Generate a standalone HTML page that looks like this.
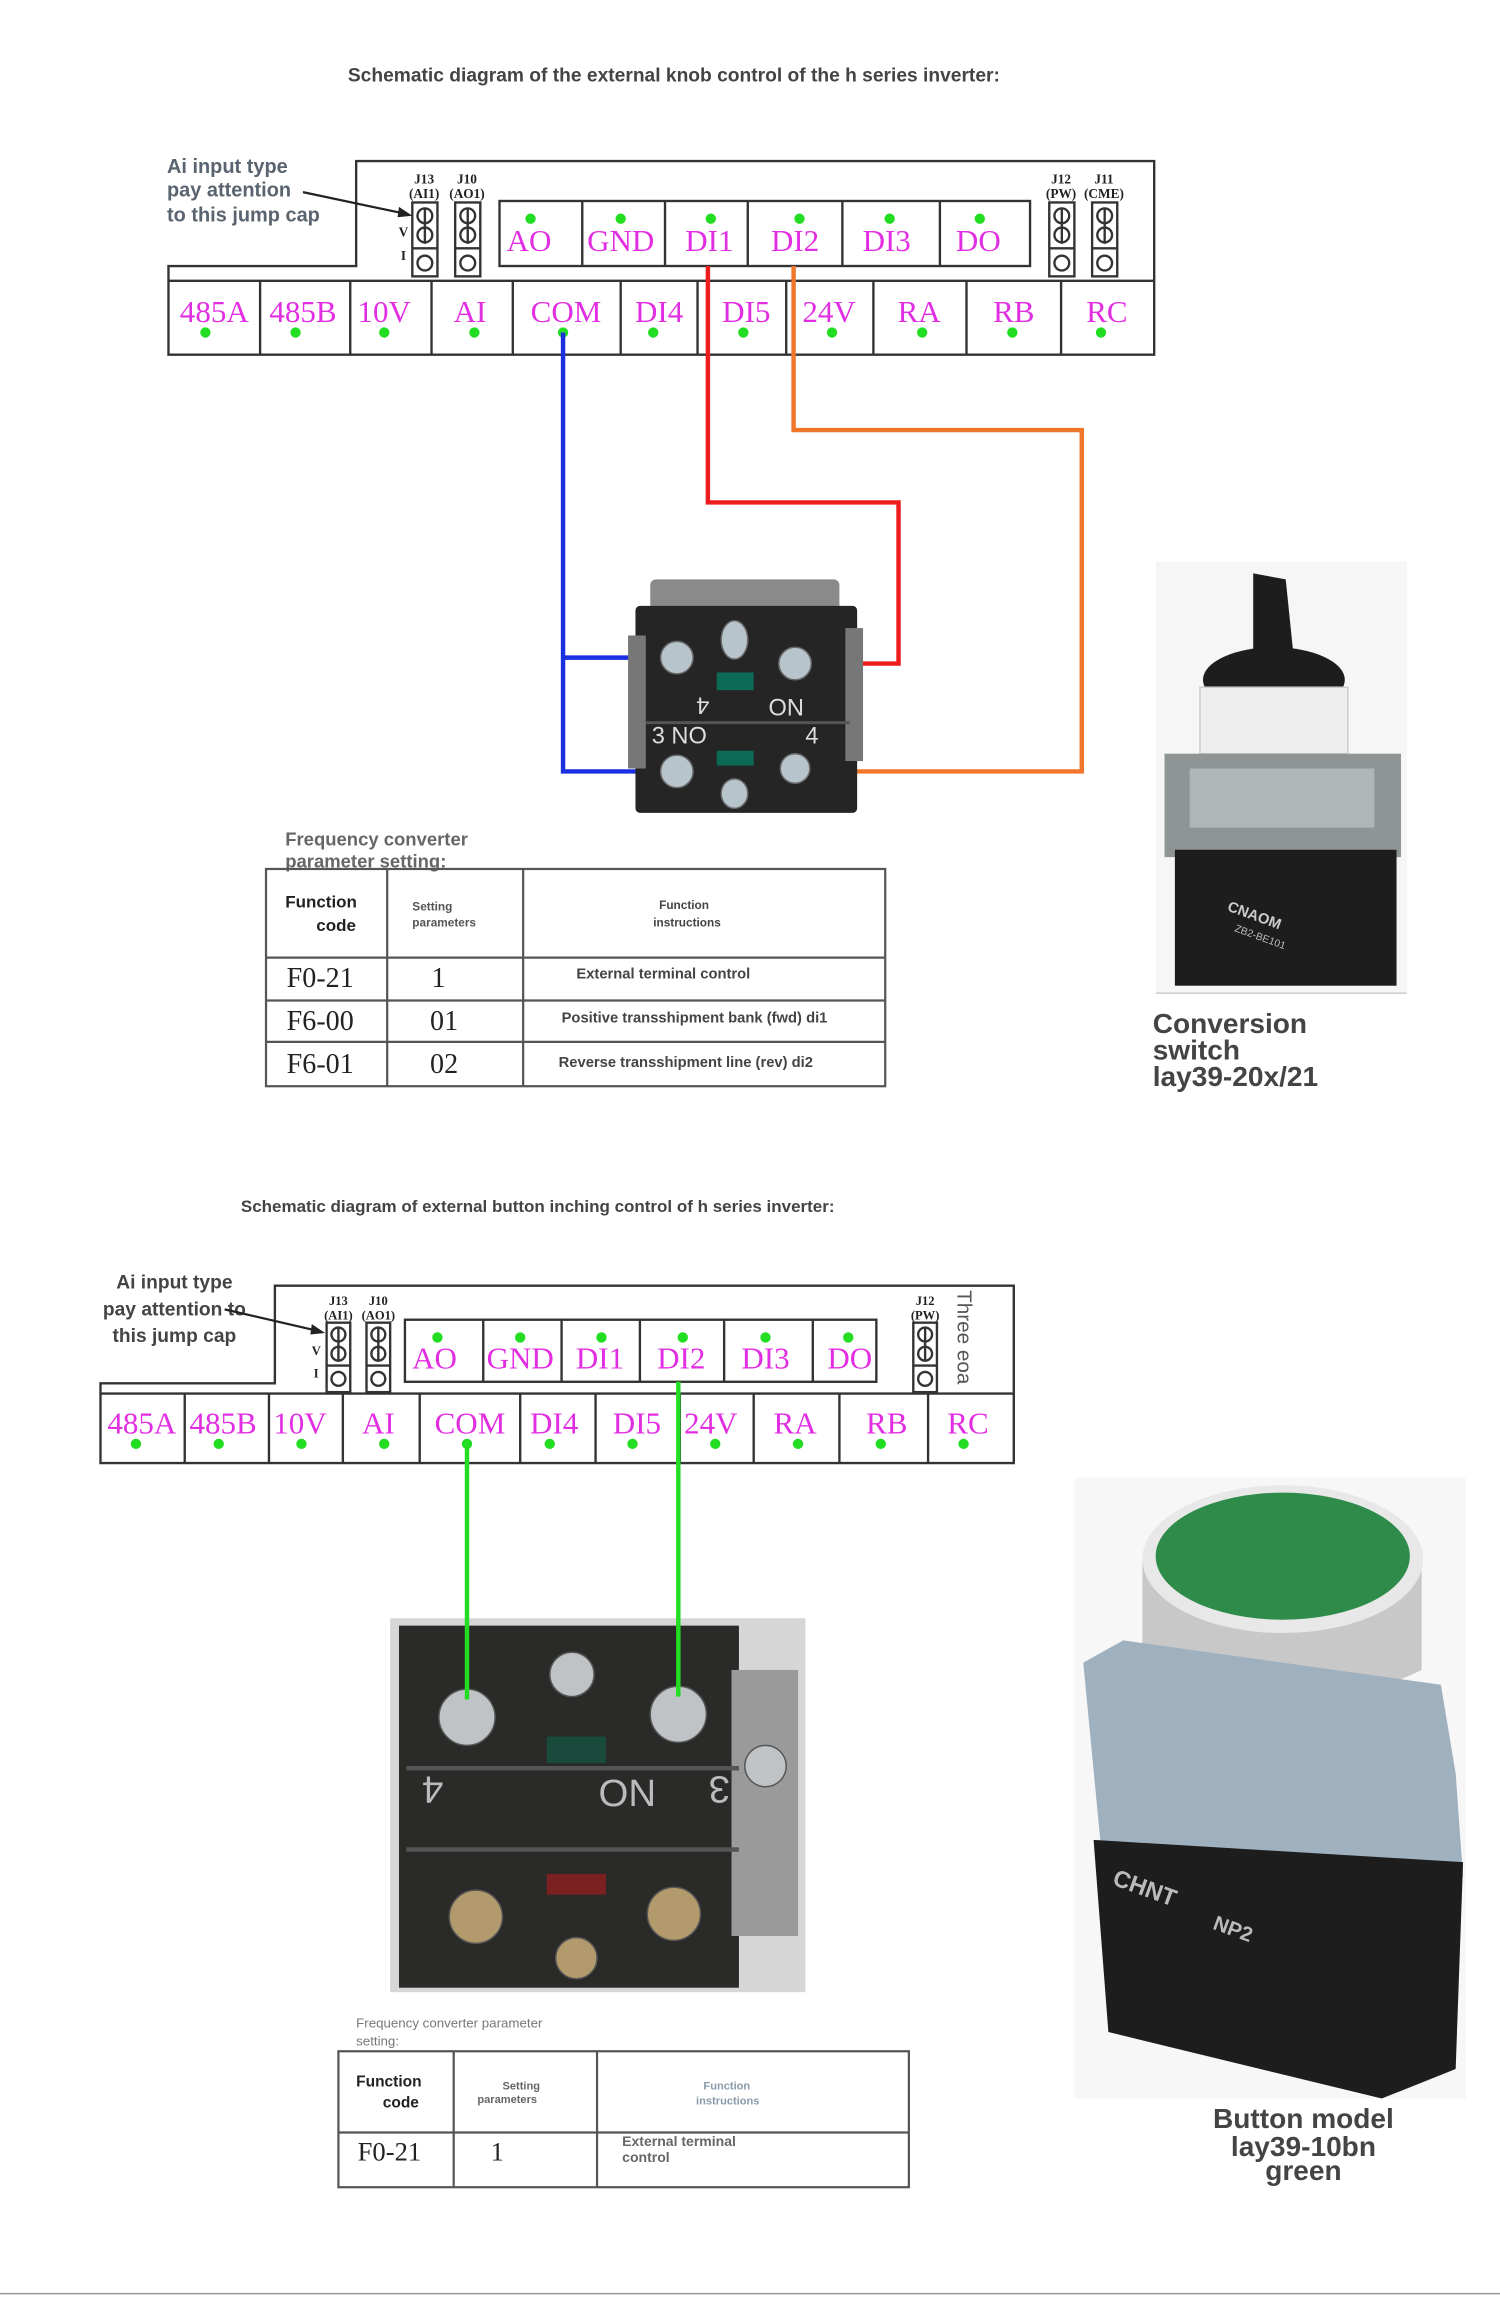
<!DOCTYPE html>
<html><head><meta charset="utf-8"><style>
html,body{margin:0;padding:0;background:#fff}
svg{display:block}
.t{font-family:"Liberation Serif",serif;fill:#e22ee2;font-size:21px;text-anchor:middle}
.s{font-family:"Liberation Sans",sans-serif}
.b{stroke:#333;stroke-width:1.6;fill:none}
.d{fill:#22dd22}
</style></head><body>
<svg width="1500" height="2322" viewBox="0 0 1015 1571.2" preserveAspectRatio="none" xmlns="http://www.w3.org/2000/svg">
<rect width="1015" height="1572" fill="#fff"/>
<!-- Title 1 -->
<text x="456" y="55" class="s" font-size="13" font-weight="bold" fill="#444" text-anchor="middle">Schematic diagram of the external knob control of the h series inverter:</text>

<!-- Block 1 -->
<g>
<path class="b" d="M241 180 V109 H781 V240 H114 V180 Z"/>
<line class="b" x1="114" y1="190" x2="781" y2="190"/>
<g class="b"><path d="M176 190V240M237 190V240M292 190V240M347 190V240M420 190V240M472 190V240M532 190V240M591 190V240M654 190V240M718 190V240"/></g>
<rect class="b" x="338" y="136" width="359" height="44"/>
<path class="b" d="M394 136V180M450 136V180M506 136V180M570 136V180M636 136V180"/>
<g class="t">
<text x="358" y="170">AO</text><text x="420" y="170">GND</text><text x="480" y="170">DI1</text><text x="538" y="170">DI2</text><text x="600" y="170">DI3</text><text x="662" y="170">DO</text>
<text x="145" y="218">485A</text><text x="205" y="218">485B</text><text x="260" y="218">10V</text><text x="318" y="218">AI</text><text x="383" y="218">COM</text><text x="446" y="218">DI4</text><text x="505" y="218">DI5</text><text x="561" y="218">24V</text><text x="622" y="218">RA</text><text x="686" y="218">RB</text><text x="749" y="218">RC</text>
</g>
<g class="d">
<circle cx="359" cy="148" r="3.5"/><circle cx="420" cy="148" r="3.5"/><circle cx="481" cy="148" r="3.5"/><circle cx="541" cy="148" r="3.5"/><circle cx="602" cy="148" r="3.5"/><circle cx="663" cy="148" r="3.5"/>
<circle cx="139" cy="225" r="3.5"/><circle cx="200" cy="225" r="3.5"/><circle cx="260" cy="225" r="3.5"/><circle cx="321" cy="225" r="3.5"/><circle cx="381" cy="225" r="3.5"/><circle cx="442" cy="225" r="3.5"/><circle cx="503" cy="225" r="3.5"/><circle cx="563" cy="225" r="3.5"/><circle cx="624" cy="225" r="3.5"/><circle cx="685" cy="225" r="3.5"/><circle cx="745" cy="225" r="3.5"/>
</g>
<!-- jumpers -->
<g class="b" stroke-width="1.3">
<rect x="279" y="137" width="17" height="50"/><line x1="279" y1="168" x2="296" y2="168"/><circle cx="287.5" cy="146" r="5"/><circle cx="287.5" cy="159" r="5"/><circle cx="287.5" cy="178" r="5"/><line x1="287.5" y1="141" x2="287.5" y2="165"/>
<rect x="308" y="137" width="17" height="50"/><line x1="308" y1="168" x2="325" y2="168"/><circle cx="316.5" cy="146" r="5"/><circle cx="316.5" cy="159" r="5"/><circle cx="316.5" cy="178" r="5"/><line x1="316.5" y1="141" x2="316.5" y2="165"/>
<rect x="710" y="137" width="17" height="50"/><line x1="710" y1="168" x2="727" y2="168"/><circle cx="718.5" cy="146" r="5"/><circle cx="718.5" cy="159" r="5"/><circle cx="718.5" cy="178" r="5"/><line x1="718.5" y1="141" x2="718.5" y2="165"/>
<rect x="739" y="137" width="17" height="50"/><line x1="739" y1="168" x2="756" y2="168"/><circle cx="747.5" cy="146" r="5"/><circle cx="747.5" cy="159" r="5"/><circle cx="747.5" cy="178" r="5"/><line x1="747.5" y1="141" x2="747.5" y2="165"/>
</g>
<g font-family="Liberation Serif,serif" font-size="9" font-weight="bold" fill="#222" text-anchor="middle">
<text x="287" y="124">J13</text><text x="287" y="134">(AI1)</text><text x="316" y="124">J10</text><text x="316" y="134">(AO1)</text>
<text x="718" y="124">J12</text><text x="718" y="134">(PW)</text><text x="747" y="124">J11</text><text x="747" y="134">(CME)</text>
<text x="273" y="160">V</text><text x="273" y="176">I</text></g>
<g class="s" font-size="13.5" font-weight="bold" fill="#5a6470">
<text x="113" y="117">Ai input type</text><text x="113" y="133">pay attention</text><text x="113" y="150">to this jump cap</text></g>
<path d="M205 130 L276 145" stroke="#222" stroke-width="1.5"/><path d="M279 146 L270 140 L269 147Z" fill="#222"/>
</g>

<!-- wires 1 -->
<g fill="none" stroke-width="3">
<path stroke="#1a2fe0" d="M381 225 V522 H455 M381 445 H455"/>
<path stroke="#ee1c1c" d="M479 180 V340 H608 V449 H543"/>
<path stroke="#f0762a" d="M537 180 V291 H732 V522 H543"/>
</g>

<!-- switch photo 1 -->
<g>
<rect x="440" y="392" width="128" height="40" rx="4" fill="#8a8a8a"/>
<rect x="430" y="410" width="150" height="140" rx="3" fill="#252525"/>
<rect x="425" y="430" width="12" height="90" fill="#777"/>
<rect x="572" y="425" width="12" height="90" fill="#777"/>
<rect x="437" y="488" width="138" height="2" fill="#555"/>
<text x="480" y="484" class="s" font-size="16" fill="#ddd" transform="rotate(180 480 478)">4</text>
<text x="520" y="484" class="s" font-size="16" fill="#ddd">ON</text>
<text x="441" y="503" class="s" font-size="16" fill="#ddd">3 NO</text><text x="545" y="503" class="s" font-size="16" fill="#ddd">4</text>
<g fill="#b8c4cc" stroke="#666"><circle cx="458" cy="445" r="11"/><circle cx="538" cy="449" r="11"/><circle cx="458" cy="522" r="11"/><circle cx="538" cy="520" r="10"/><ellipse cx="497" cy="433" rx="9" ry="13"/><ellipse cx="497" cy="537" rx="9" ry="10"/></g>
<rect x="485" y="455" width="25" height="12" fill="#0d6a55"/><rect x="485" y="508" width="25" height="10" fill="#0d6a55"/>
</g>

<!-- right photo 1: rotary switch -->
<g>
<rect x="782" y="380" width="170" height="292" fill="#f6f6f6"/>
<line x1="782" y1="672" x2="952" y2="672" stroke="#ccc"/>
<path d="M848 388 L870 392 L878 470 L848 480 Z" fill="#1d1d1d"/>
<ellipse cx="862" cy="460" rx="48" ry="22" fill="#1d1d1d"/>
<rect x="812" y="465" width="100" height="45" fill="#eeeeee" stroke="#ccc"/>
<rect x="788" y="510" width="160" height="70" fill="#8f9494"/>
<rect x="805" y="520" width="125" height="40" fill="#b0b5b5"/>
<rect x="795" y="575" width="150" height="92" fill="#1d1d1d"/>
<text x="830" y="616" class="s" font-size="10" font-weight="bold" fill="#ccc" transform="rotate(20 830 616)">CNAOM</text>
<text x="835" y="630" class="s" font-size="7" fill="#bbb" transform="rotate(20 835 630)">ZB2-BE101</text>
</g>
<g class="s" font-size="19" font-weight="bold" fill="#444">
<text x="780" y="699">Conversion</text><text x="780" y="717">switch</text><text x="780" y="735">lay39-20x/21</text></g>

<!-- table 1 -->
<g class="s" font-size="12.5" font-weight="bold" fill="#666"><text x="193" y="572">Frequency converter</text><text x="193" y="587">parameter setting:</text></g>
<g stroke="#555" stroke-width="1.5" fill="none">
<rect x="180" y="588" width="419" height="147"/>
<path d="M180 648H599M180 677H599M180 705H599M262 588V735M354 588V735"/></g>
<g class="s" fill="#222" font-weight="bold">
<text x="193" y="614" font-size="11.5">Function</text><text x="214" y="630" font-size="11.5">code</text>
<text x="279" y="616" font-size="8" fill="#555">Setting</text><text x="279" y="627" font-size="8" fill="#555">parameters</text>
<text x="446" y="615" font-size="8" fill="#444">Function</text><text x="442" y="627" font-size="8" fill="#444">instructions</text>
<text x="390" y="662" font-size="10" fill="#444">External terminal control</text>
<text x="380" y="692" font-size="10" fill="#444">Positive transshipment bank (fwd) di1</text>
<text x="378" y="722" font-size="10" fill="#444">Reverse transshipment line (rev) di2</text></g>
<g font-family="Liberation Serif,serif" font-size="19" fill="#222">
<text x="194" y="668">F0-21</text><text x="292" y="668">1</text>
<text x="194" y="697">F6-00</text><text x="291" y="697">01</text>
<text x="194" y="726">F6-01</text><text x="291" y="726">02</text></g>

<!-- Title 2 -->
<text x="163" y="820" class="s" font-size="11.5" font-weight="bold" fill="#444">Schematic diagram of external button inching control of h series inverter:</text>

<!-- Block 2 -->
<g>
<path class="b" d="M186 936 V870 H686 V990 H68 V936 Z"/>
<line class="b" x1="68" y1="943" x2="686" y2="943"/>
<path class="b" d="M125 943V990M182 943V990M232 943V990M284 943V990M352 943V990M403 943V990M460 943V990M510 943V990M568 943V990M628 943V990"/>
<rect class="b" x="274" y="893" width="319" height="42"/>
<path class="b" d="M327 893V935M380 893V935M433 893V935M490 893V935M550 893V935"/>
<g class="t">
<text x="294" y="926">AO</text><text x="352" y="926">GND</text><text x="406" y="926">DI1</text><text x="461" y="926">DI2</text><text x="518" y="926">DI3</text><text x="575" y="926">DO</text>
<text x="96" y="970">485A</text><text x="151" y="970">485B</text><text x="203" y="970">10V</text><text x="256" y="970">AI</text><text x="318" y="970">COM</text><text x="375" y="970">DI4</text><text x="431" y="970">DI5</text><text x="481" y="970">24V</text><text x="538" y="970">RA</text><text x="600" y="970">RB</text><text x="655" y="970">RC</text>
</g>
<g class="d">
<circle cx="296" cy="905" r="3.5"/><circle cx="352" cy="905" r="3.5"/><circle cx="407" cy="905" r="3.5"/><circle cx="462" cy="905" r="3.5"/><circle cx="518" cy="905" r="3.5"/><circle cx="574" cy="905" r="3.5"/>
<circle cx="92" cy="977" r="3.5"/><circle cx="148" cy="977" r="3.5"/><circle cx="204" cy="977" r="3.5"/><circle cx="260" cy="977" r="3.5"/><circle cx="316" cy="977" r="3.5"/><circle cx="372" cy="977" r="3.5"/><circle cx="428" cy="977" r="3.5"/><circle cx="484" cy="977" r="3.5"/><circle cx="540" cy="977" r="3.5"/><circle cx="596" cy="977" r="3.5"/><circle cx="652" cy="977" r="3.5"/>
</g>
<g class="b" stroke-width="1.3">
<rect x="221" y="895" width="16" height="47"/><line x1="221" y1="924" x2="237" y2="924"/><circle cx="229" cy="903" r="4.7"/><circle cx="229" cy="916" r="4.7"/><circle cx="229" cy="933" r="4.7"/><line x1="229" y1="898" x2="229" y2="921"/>
<rect x="248" y="895" width="16" height="47"/><line x1="248" y1="924" x2="264" y2="924"/><circle cx="256" cy="903" r="4.7"/><circle cx="256" cy="916" r="4.7"/><circle cx="256" cy="933" r="4.7"/><line x1="256" y1="898" x2="256" y2="921"/>
<rect x="618" y="895" width="16" height="47"/><line x1="618" y1="924" x2="634" y2="924"/><circle cx="626" cy="903" r="4.7"/><circle cx="626" cy="916" r="4.7"/><circle cx="626" cy="933" r="4.7"/><line x1="626" y1="898" x2="626" y2="921"/>
</g>
<g font-family="Liberation Serif,serif" font-size="8.5" font-weight="bold" fill="#222" text-anchor="middle">
<text x="229" y="883">J13</text><text x="229" y="893">(AI1)</text><text x="256" y="883">J10</text><text x="256" y="893">(AO1)</text>
<text x="626" y="883">J12</text><text x="626" y="893">(PW)</text><text x="214" y="917">V</text><text x="214" y="932">I</text></g>
<text x="648" y="873" class="s" font-size="14" fill="#555" transform="rotate(90 648 873)">Three eoa</text>
<g class="s" font-size="13" font-weight="bold" fill="#444" text-anchor="middle">
<text x="118" y="872">Ai input type</text><text x="118" y="890">pay attention to</text><text x="118" y="908">this jump cap</text></g>
<path d="M152 886 L217 901" stroke="#222" stroke-width="1.5"/><path d="M220 902 L211 896 L210 903Z" fill="#222"/>
</g>

<!-- photo 2 -->
<g>
<rect x="264" y="1095" width="281" height="253" fill="#d6d6d6"/>
<rect x="270" y="1100" width="230" height="245" fill="#2a2a28"/>
<rect x="495" y="1130" width="45" height="180" fill="#9a9a9a"/>
<rect x="275" y="1195" width="225" height="3" fill="#555"/>
<rect x="275" y="1250" width="225" height="3" fill="#555"/>
<text x="300" y="1222" class="s" font-size="26" fill="#bbb" transform="rotate(180 300 1212)">4</text>
<text x="405" y="1222" class="s" font-size="26" fill="#bbb">ON</text>
<text x="472" y="1222" class="s" font-size="26" fill="#bbb" transform="rotate(180 483 1212)">3</text>
<g fill="#bfc3c6" stroke="#555"><circle cx="316" cy="1162" r="19"/><circle cx="459" cy="1160" r="19"/><circle cx="387" cy="1133" r="15"/><circle cx="518" cy="1195" r="14"/></g>
<g fill="#b39a6c" stroke="#555"><circle cx="322" cy="1297" r="18"/><circle cx="456" cy="1295" r="18"/><circle cx="390" cy="1325" r="14"/></g>
<rect x="370" y="1175" width="40" height="18" fill="#1a4a3c"/><rect x="370" y="1268" width="40" height="14" fill="#7a2020"/>
</g>
<g fill="none" stroke="#22dd22" stroke-width="3">
<path d="M316 977 V1150"/><path d="M459 935 V1148"/></g>

<!-- button photo -->
<g>
<rect x="727" y="1000" width="265" height="420" fill="#f7f7f7"/>
<path d="M773 1055 L773 1130 Q868 1175 962 1130 L962 1055Z" fill="#c8c8c8"/>
<ellipse cx="868" cy="1055" rx="95" ry="50" fill="#e8e8e8"/>
<ellipse cx="868" cy="1053" rx="86" ry="43" fill="#2e8b4a"/>
<path d="M733 1125 L760 1110 L975 1140 L985 1200 L990 1270 L745 1250Z" fill="#9fb0bf"/>
<path d="M740 1245 L990 1260 L985 1400 L935 1420 L750 1375Z" fill="#1d1d1d"/>
<text x="752" y="1275" class="s" font-size="16" font-weight="bold" fill="#bbb" transform="rotate(20 752 1275)">CHNT</text>
<text x="820" y="1305" class="s" font-size="14" font-weight="bold" fill="#bbb" transform="rotate(20 820 1305)">NP2</text>
</g>
<g class="s" font-size="19" font-weight="bold" fill="#444" text-anchor="middle">
<text x="882" y="1440">Button model</text><text x="882" y="1459">lay39-10bn</text><text x="882" y="1475">green</text></g>

<!-- table 2 -->
<g class="s" font-size="9" fill="#777"><text x="241" y="1372">Frequency converter parameter</text><text x="241" y="1384">setting:</text></g>
<g stroke="#555" stroke-width="1.5" fill="none">
<rect x="229" y="1388" width="386" height="92"/>
<path d="M229 1443H615M307 1388V1480M404 1388V1480"/></g>
<g class="s" font-weight="bold">
<text x="241" y="1412" font-size="10.5" fill="#222">Function</text><text x="259" y="1426" font-size="10.5" fill="#222">code</text>
<text x="340" y="1414" font-size="7.5" fill="#666">Setting</text><text x="323" y="1423" font-size="7.5" fill="#666">parameters</text>
<text x="476" y="1414" font-size="7.5" fill="#8a9aaa">Function</text><text x="471" y="1424" font-size="7.5" fill="#8a9aaa">instructions</text>
<text x="421" y="1452" font-size="9.5" fill="#666">External terminal</text><text x="421" y="1463" font-size="9.5" fill="#666">control</text></g>
<g font-family="Liberation Serif,serif" font-size="18" fill="#222"><text x="242" y="1462">F0-21</text><text x="332" y="1462">1</text></g>

<line x1="0" y1="1552" x2="1015" y2="1552" stroke="#999" stroke-width="1"/>
</svg>
</body></html>
